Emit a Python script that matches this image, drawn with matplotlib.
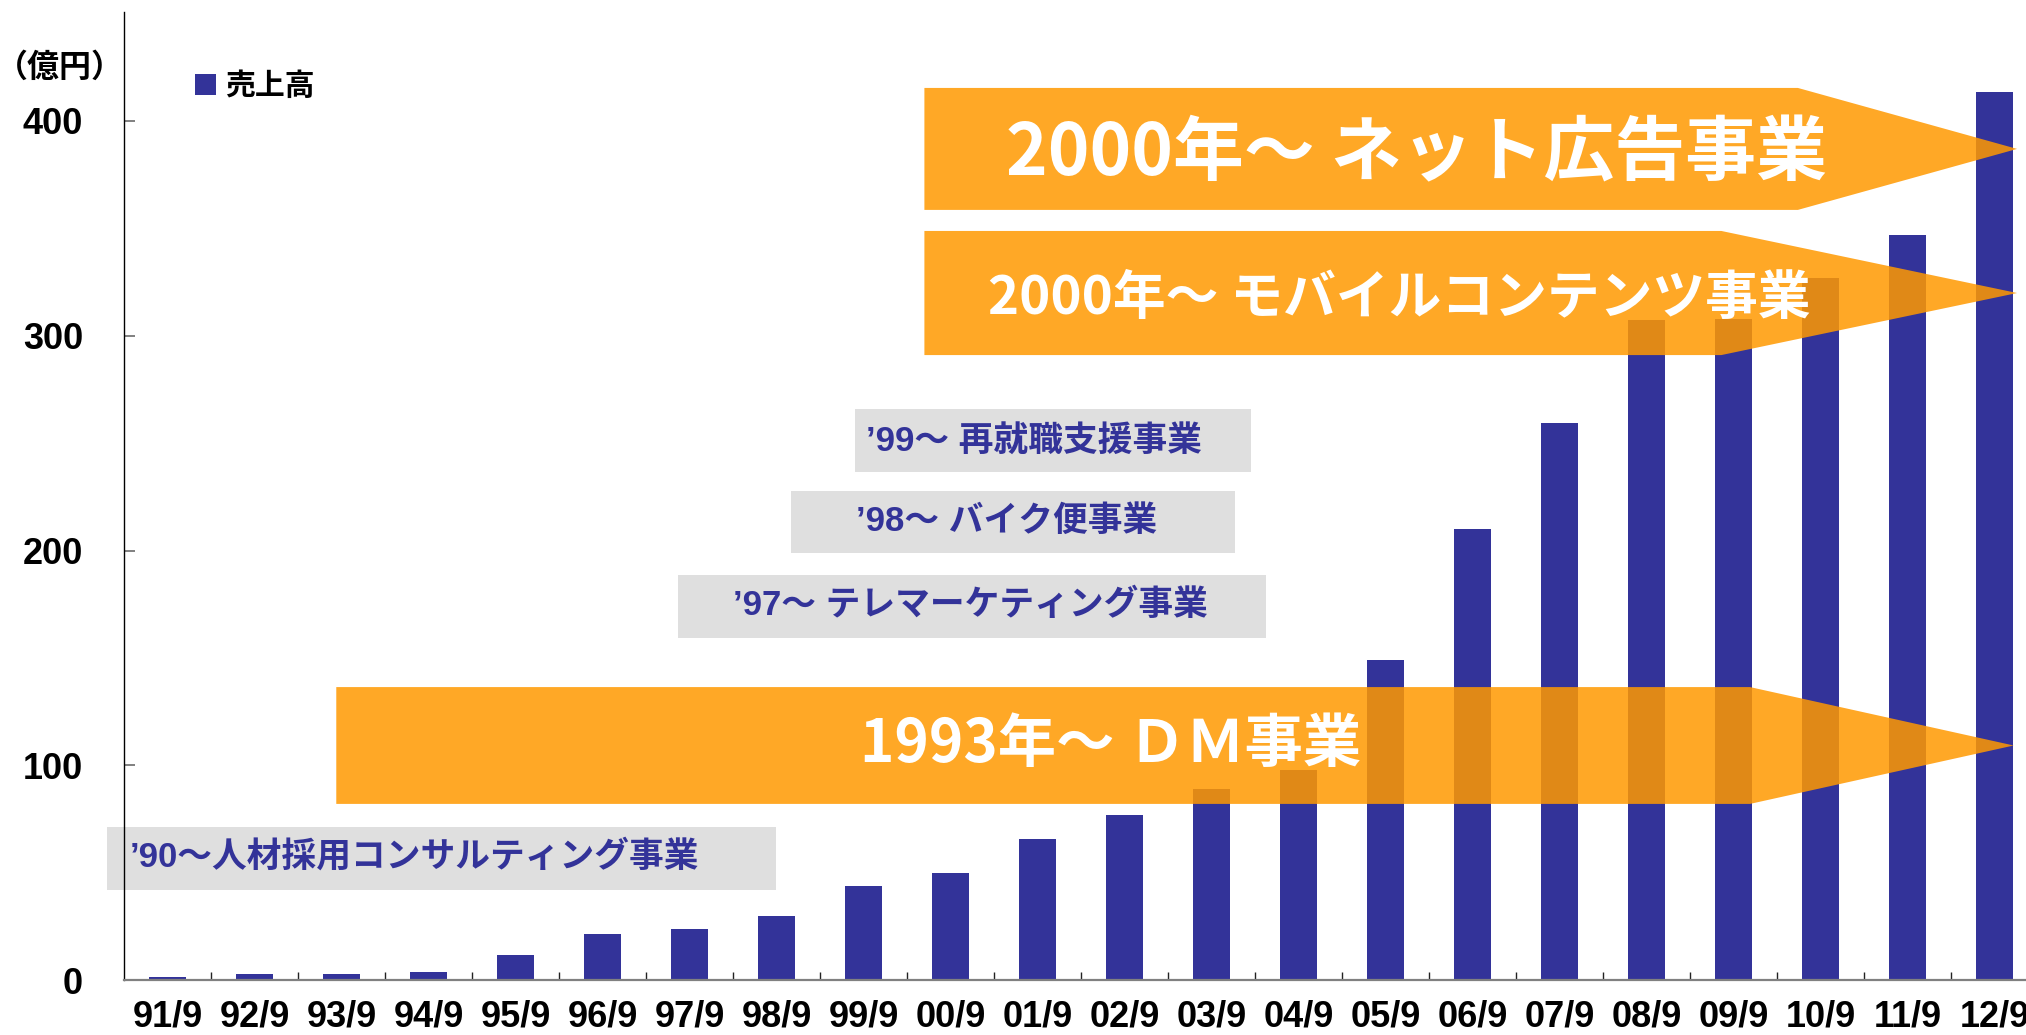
import matplotlib
matplotlib.use("Agg")
import matplotlib.pyplot as plt
from matplotlib.patches import Polygon, Rectangle
from matplotlib.ticker import FixedLocator
import numpy as np

plt.rcParams['font.family'] = ['Noto Sans CJK JP', 'DejaVu Sans']

# ---- data ----
years = ["91/9", "92/9", "93/9", "94/9", "95/9", "96/9", "97/9", "98/9", "99/9", "00/9", "01/9",
         "02/9", "03/9", "04/9", "05/9", "06/9", "07/9", "08/9", "09/9", "10/9", "11/9", "12/9"]
sales = [1.3, 2.6, 2.6, 3.6, 11.8, 21.6, 23.9, 30.0, 43.8, 49.8, 65.5,
         76.9, 88.9, 98.0, 149.0, 210.0, 259.5, 307.5, 308.0, 327.0, 347.0, 413.6]
yticks = [0, 100, 200, 300, 400]
series_name = "売上高"
unit_label = "（億円）"

# big arrows: (text, left, shoulder, tip, bottom, top, text_x, text_y, fontsize)
arrows = [
    ("2000年～ ネット広告事業", 8.70, 18.74, 21.26, 358.6, 415.4, 14.36, 384.6, 51),
    ("2000年～ モバイルコンテンツ事業", 8.70, 17.86, 21.26, 291.0, 348.8, 14.16, 317.5, 38),
    ("1993年～ ＤＭ事業", 1.94, 18.19, 21.22, 82.0, 136.4, 10.84, 109.5, 42),
]
# grey boxes: (text, left, right, bottom, top, text_x, text_y)
boxes = [
    ("’99～ 再就職支援事業", 7.90, 12.45, 236.6, 265.9, 8.03, 251.0),
    ("’98～ バイク便事業", 7.17, 12.27, 198.8, 227.7, 7.91, 213.5),
    ("’97～ テレマーケティング事業", 5.87, 12.63, 159.3, 188.6, 6.50, 174.5),
    ("’90～人材採用コンサルティング事業", -0.70, 6.99, 41.9, 71.2, -0.43, 57.5),
]

W, H = 2026, 1035
fig = plt.figure(figsize=(W / 100, H / 100), dpi=100)
ax = fig.add_axes([124 / W, 55 / H, 1914 / W, 968 / H])

x = np.arange(len(years))
ax.bar(x, sales, width=0.43, color='#333399', zorder=2, label=series_name)

ax.set_xlim(-0.5, len(years) - 0.5)
ax.set_ylim(0, 968 / 2.1475)

for (txt, l, s, t, b, tp, tx, ty, fs) in arrows:
    poly = Polygon([(l, b), (s, b), (t, (b + tp) / 2), (s, tp), (l, tp)], closed=True,
                   facecolor=(1.0, 0.60, 0.0), alpha=0.85, edgecolor='none', zorder=3)
    ax.add_patch(poly)
    ax.text(tx, ty, txt, ha='center', va='center', color='white', fontsize=fs,
            fontweight='bold', zorder=6)

for (txt, l, r, b, tp, tx, ty) in boxes:
    ax.add_patch(Rectangle((l, b), r - l, tp - b, facecolor='#DEDEDE', alpha=0.95,
                           edgecolor='none', zorder=3, clip_on=False))
    ax.text(tx, ty, txt, ha='left', va='center', color='#333399', fontsize=25,
            fontweight='bold', zorder=6, family=['Liberation Sans', 'Noto Sans CJK JP'])

# axes styling
for sp in ['top', 'right']:
    ax.spines[sp].set_visible(False)
ax.spines['left'].set_color('black')
ax.spines['left'].set_linewidth(1.0)
ax.spines['left'].set_zorder(7)
ax.spines['bottom'].set_color('#808080')
ax.spines['bottom'].set_linewidth(1.6)
ax.spines['bottom'].set_zorder(7)

ax.set_yticks(yticks)
ax.set_yticklabels([str(v) for v in yticks])
ax.tick_params(axis='y', direction='in', length=8, width=1.4, color='#808080',
               labelcolor='black', pad=29.5, labelsize=26)
for lab in ax.get_yticklabels():
    lab.set_fontweight('bold')
    lab.set_family(['Liberation Sans', 'DejaVu Sans'])

ax.set_xticks(x)
ax.set_xticklabels(years)
ax.tick_params(axis='x', which='major', length=0, pad=14, labelsize=26, labelcolor='black')
ax.xaxis.set_minor_locator(FixedLocator(np.arange(0.5, len(years) - 1, 1.0)))
ax.tick_params(axis='x', which='minor', direction='in', length=5.8, width=1.0, color='#222222')
for lab in ax.get_xticklabels():
    lab.set_fontweight('bold')
    lab.set_family(['Liberation Sans', 'DejaVu Sans'])

# unit label
fig.text(60 / W, 1 - 68 / H, unit_label, ha='center', va='center', fontsize=23,
         fontweight='bold', color='black')

# legend
leg = ax.legend(loc='upper left', bbox_to_anchor=(195 / W, 1 - 71 / H),
                bbox_transform=fig.transFigure, frameon=False, fontsize=21.5,
                handlelength=0.7, handleheight=0.7, handletextpad=0.3, borderpad=0,
                borderaxespad=0)
for t in leg.get_texts():
    t.set_fontweight('bold')

fig.savefig("out.png", dpi=100)
